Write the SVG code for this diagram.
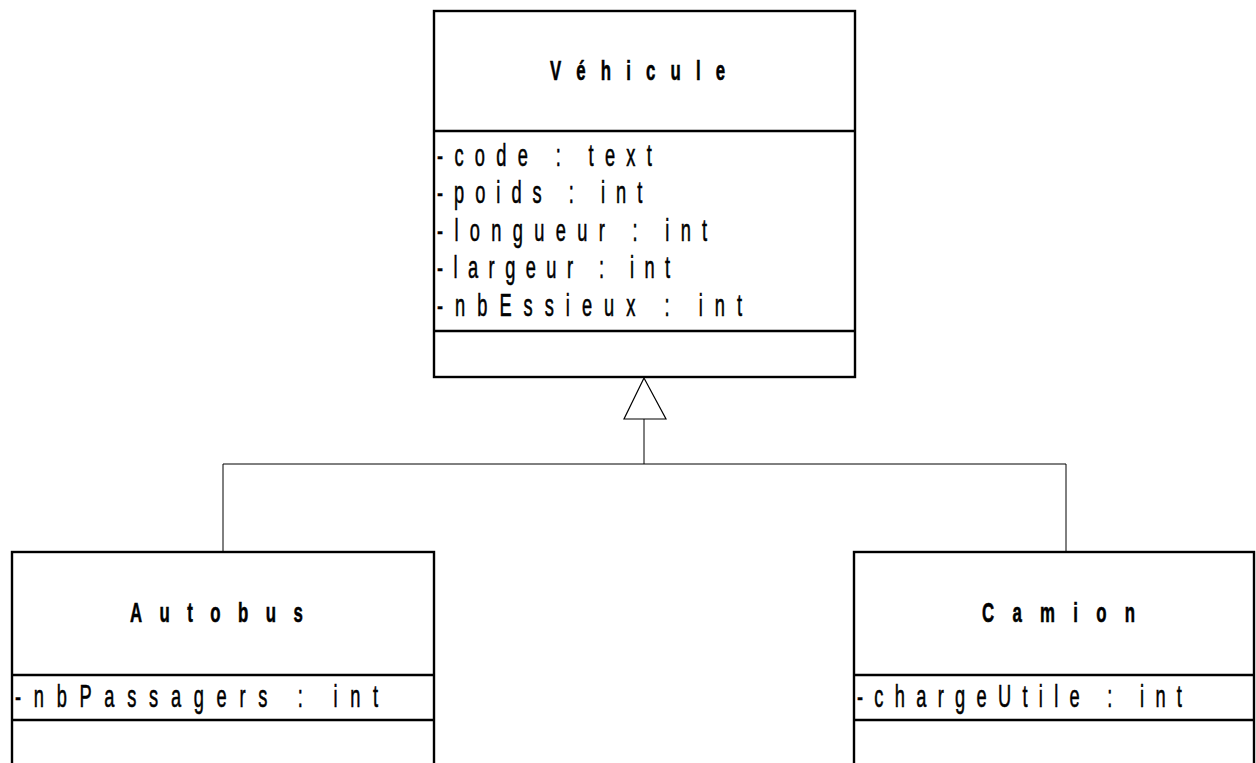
<svg xmlns="http://www.w3.org/2000/svg" width="1256" height="763" viewBox="0 0 1256 763">
<style>
.box{fill:#fff;stroke:#000;stroke-width:2.4}
.div{stroke:#000;stroke-width:2.4}
.con{stroke:#000;stroke-width:1;fill:none}
.title{font-family:"Liberation Sans",Arial,sans-serif;font-size:28px;font-weight:bold;fill:#000;stroke:#000;stroke-width:0.6}
.attr{font-family:"Liberation Sans",Arial,sans-serif;font-size:32px;fill:#000;stroke:#000;stroke-width:0.6}
</style>
<rect width="1256" height="763" fill="#fff"/>
<g id="connectors">
<polyline class="con" points="223,552 223,464 1066,464 1066,552"/>
<line class="con" x1="644" y1="419" x2="644" y2="464"/>
<polygon points="644,378 624,419 666,419" fill="#fff" stroke="#000" stroke-width="1.2"/>
</g>
<g id="vehicule">
<rect class="box" x="434" y="11" width="421" height="366"/>
<line class="div" x1="434" y1="131" x2="855" y2="131"/>
<line class="div" x1="434" y1="331" x2="855" y2="331"/>
<g transform="translate(550,80) scale(0.6,1)"><text class="title" x="0" y="0" textLength="292" lengthAdjust="spacing">Véhicule</text></g>
<g transform="translate(437,166) scale(0.57,1)"><text class="attr" x="0" y="0" textLength="377" lengthAdjust="spacing">-code : text</text></g>
<g transform="translate(437,203) scale(0.57,1)"><text class="attr" x="0" y="0" textLength="360" lengthAdjust="spacing">-poids : int</text></g>
<g transform="translate(437,241) scale(0.57,1)"><text class="attr" x="0" y="0" textLength="474" lengthAdjust="spacing">-longueur : int</text></g>
<g transform="translate(437,278) scale(0.57,1)"><text class="attr" x="0" y="0" textLength="409" lengthAdjust="spacing">-largeur : int</text></g>
<g transform="translate(437,316) scale(0.57,1)"><text class="attr" x="0" y="0" textLength="535" lengthAdjust="spacing">-nbEssieux : int</text></g>
</g>
<g id="autobus">
<rect class="box" x="12" y="552" width="422" height="240"/>
<line class="div" x1="12" y1="675" x2="434" y2="675"/>
<line class="div" x1="12" y1="720" x2="434" y2="720"/>
<g transform="translate(130,622) scale(0.6,1)"><text class="title" x="0" y="0" textLength="288" lengthAdjust="spacing">Autobus</text></g>
<g transform="translate(15,707) scale(0.57,1)"><text class="attr" x="0" y="0" textLength="637" lengthAdjust="spacing">-nbPassagers : int</text></g>
</g>
<g id="camion">
<rect class="box" x="854" y="552" width="400" height="240"/>
<line class="div" x1="854" y1="675" x2="1254" y2="675"/>
<line class="div" x1="854" y1="720" x2="1254" y2="720"/>
<g transform="translate(982,622) scale(0.6,1)"><text class="title" x="0" y="0" textLength="255" lengthAdjust="spacing">Camion</text></g>
<g transform="translate(857,707) scale(0.57,1)"><text class="attr" x="0" y="0" textLength="570" lengthAdjust="spacing">-chargeUtile : int</text></g>
</g>
</svg>
